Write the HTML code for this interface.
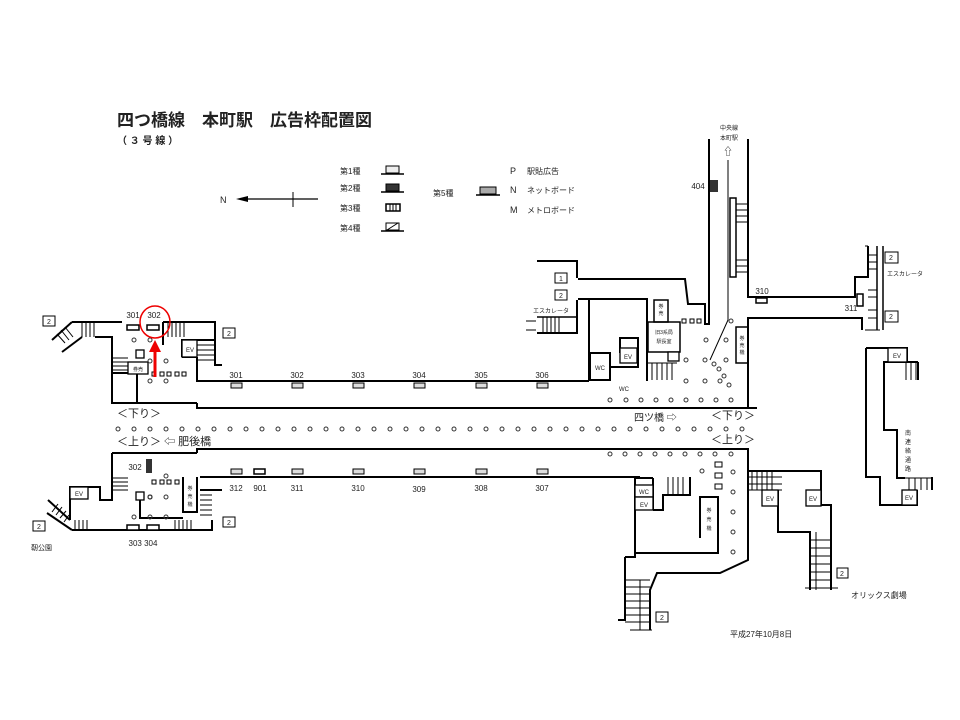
<!DOCTYPE html>
<html><head><meta charset="utf-8"><style>
html,body{margin:0;padding:0;background:#fff;}
svg{display:block;}
text{font-family:"Liberation Sans","Noto Sans CJK JP",sans-serif;fill:#222;}
</style></head><body>
<svg width="960" height="720" viewBox="0 0 960 720" xmlns="http://www.w3.org/2000/svg">
<rect width="960" height="720" fill="#fff"/>
<!-- title -->
<text x="117" y="126" font-size="17" font-weight="bold" fill="#333">四つ橋線　本町駅　広告枠配置図</text>
<text x="117" y="144" font-size="10" font-weight="bold" fill="#444">（ ３ 号 線 ）</text>
<!-- north arrow -->
<text x="220" y="203" font-size="9">N</text>
<line x1="240" y1="199" x2="318" y2="199" stroke="#000" stroke-width="1.3"/>
<polygon points="236,199 248,196 248,202" fill="#000"/>
<line x1="293" y1="192" x2="293" y2="207" stroke="#000"/>
<!-- legend -->
<g font-size="8">
<text x="340" y="174">第1種</text><text x="340" y="191">第2種</text><text x="340" y="211">第3種</text><text x="340" y="231">第4種</text>
<text x="433" y="196">第5種</text>
<text x="510" y="174" font-size="9">P</text><text x="527" y="174">駅貼広告</text>
<text x="510" y="193" font-size="9">N</text><text x="527" y="193">ネットボード</text>
<text x="510" y="213" font-size="9">M</text><text x="527" y="213">メトロボード</text>
</g>
<g stroke="#000" stroke-width="1">
<rect x="386" y="166" width="13" height="7" fill="#eee"/><line x1="381" y1="174" x2="404" y2="174" stroke-width="1.5"/>
<rect x="386" y="184" width="13" height="7" fill="#333"/><line x1="381" y1="192" x2="404" y2="192" stroke-width="1.5"/>
<rect x="386" y="204" width="14" height="7" fill="#fff" stroke-width="1.5"/><line x1="390" y1="204" x2="390" y2="211"/><line x1="393" y1="204" x2="393" y2="211"/><line x1="396" y1="204" x2="396" y2="211"/>
<rect x="386" y="223" width="13" height="7" fill="#fff"/><line x1="387" y1="230" x2="398" y2="223"/><line x1="381" y1="231" x2="404" y2="231" stroke-width="1.5"/>
<rect x="480" y="187" width="16" height="7" fill="#aaa"/><line x1="476" y1="195" x2="500" y2="195" stroke-width="1.5"/>
</g>

<g fill="none" stroke="#000" stroke-width="2">
<!-- main corridor walls -->
<polyline points="197,357 197,381 589,381"/>
<polyline points="197,403 197,408 757,408"/>
<polyline points="197,453 197,449 748,449 748,471"/>
<polyline points="200,477 640,477"/>
<!-- upper left -->
<line x1="72" y1="322" x2="122" y2="322"/>
<polyline points="95,337 112,337 112,403 197,403"/>
<polyline points="137,403 137,373 112,373"/>
<polyline points="163,322 215,322 215,365 222,365"/>
<polyline points="163,322 163,345"/>
<polyline points="182,357 182,340 215,340"/>
<line x1="182" y1="357" x2="197" y2="357"/>
<!-- lower left -->
<polyline points="112,453 197,453"/>
<polyline points="112,453 112,500 100,500 100,487 70,487 70,520"/>
<polyline points="72,530 212,530 212,520"/>
<polyline points="183,477 183,512 197,512 197,477"/>
<polyline points="200,490 222,490"/>
<polyline points="140,500 140,518 183,518"/>
<!-- center right -->
<polyline points="537,261 577,261 577,278"/>
<polyline points="577,300 577,333 537,333"/>
<polyline points="578,279 685,279 688,304 705,304 705,324 709,324 709,139"/>
<polyline points="578,299 647,299 647,381"/>
<line x1="589" y1="299" x2="589" y2="381"/>
<rect x="590" y="353" width="20" height="27"/>
<polyline points="610,367 638,367 638,338 620,338 620,353"/>
<rect x="648" y="322" width="32" height="30" stroke-width="1.5"/>
<rect x="654" y="300" width="14" height="22" stroke-width="1.5"/>
<polyline points="748,139 748,297 855,297 855,277 868,277 868,246"/>
<polyline points="748,409 748,318 862,318 862,330"/>
<rect x="736" y="327" width="12" height="36" stroke-width="1.5"/>
<rect x="730" y="198" width="6" height="79" stroke-width="1.5"/>
<!-- right building -->
<polyline points="866,348 907,348 907,362"/>
<polyline points="866,348 866,477 880,477 880,505 917,505 917,490"/>
<polyline points="918,362 884,362 884,430 897,430 897,478 905,478"/>
<!-- bottom right -->
<polyline points="748,471 821,471 821,505 831,505 831,590"/>
<polyline points="778,490 778,532 810,532 810,590"/>
<polyline points="748,471 748,560 720,573 657,573 650,590 650,630"/>
<polyline points="625,557 625,620 618,620"/>
<polyline points="625,557 635,557 635,478 653,478"/>
<polyline points="635,553 718,553 718,497 700,497 700,538"/>
<polyline points="653,510 663,510 663,495 690,495 690,477"/>
<polyline points="653,478 653,510"/>
</g>
<!-- thin lines -->
<g fill="none" stroke="#000" stroke-width="1">
<polyline points="728,160 728,320 710,360"/>
<line x1="653" y1="497" x2="635" y2="497"/>
<line x1="762" y1="490" x2="762" y2="506"/><line x1="762" y1="506" x2="778" y2="506"/>
<line x1="806" y1="490" x2="806" y2="506"/>
<line x1="888" y1="348" x2="888" y2="362"/>
<line x1="902" y1="490" x2="902" y2="505"/>
<line x1="877" y1="246" x2="877" y2="330" stroke-width="1.5"/><line x1="883" y1="246" x2="883" y2="330" stroke-width="1.5"/>
<line x1="865" y1="246" x2="868" y2="246"/><line x1="865" y1="330" x2="880" y2="330"/>
</g>
<!-- stairs (rungs) -->
<g stroke="#000" stroke-width="1">
<line x1="82" y1="322" x2="82" y2="337"/><line x1="86" y1="322" x2="86" y2="337"/><line x1="90" y1="322" x2="90" y2="337"/><line x1="94" y1="322" x2="94" y2="337"/>
<line x1="72" y1="322" x2="52" y2="340" stroke-width="2"/><line x1="82" y1="337" x2="62" y2="352" stroke-width="2"/>
<line x1="57" y1="334" x2="65" y2="343"/><line x1="61" y1="330" x2="69" y2="340"/><line x1="65" y1="327" x2="73" y2="337"/>
<line x1="168" y1="322" x2="168" y2="337"/><line x1="172" y1="322" x2="172" y2="337"/><line x1="176" y1="322" x2="176" y2="337"/><line x1="180" y1="322" x2="180" y2="337"/><line x1="184" y1="322" x2="184" y2="337"/>
<line x1="197" y1="345" x2="215" y2="345"/><line x1="197" y1="350" x2="215" y2="350"/><line x1="197" y1="355" x2="215" y2="355"/><line x1="197" y1="360" x2="215" y2="360"/>
<line x1="112" y1="358" x2="128" y2="358"/><line x1="112" y1="362" x2="128" y2="362"/><line x1="112" y1="366" x2="128" y2="366"/><line x1="112" y1="370" x2="128" y2="370"/>
<line x1="112" y1="478" x2="128" y2="478"/><line x1="112" y1="482" x2="128" y2="482"/><line x1="112" y1="486" x2="128" y2="486"/><line x1="112" y1="490" x2="128" y2="490"/>
<line x1="200" y1="495" x2="212" y2="495"/><line x1="200" y1="500" x2="212" y2="500"/><line x1="200" y1="505" x2="212" y2="505"/><line x1="200" y1="510" x2="212" y2="510"/><line x1="200" y1="515" x2="212" y2="515"/>
<line x1="75" y1="520" x2="75" y2="530"/><line x1="79" y1="520" x2="79" y2="530"/><line x1="83" y1="520" x2="83" y2="530"/><line x1="87" y1="520" x2="87" y2="530"/>
<line x1="175" y1="520" x2="175" y2="530"/><line x1="179" y1="520" x2="179" y2="530"/><line x1="183" y1="520" x2="183" y2="530"/><line x1="187" y1="520" x2="187" y2="530"/><line x1="191" y1="520" x2="191" y2="530"/>
<line x1="70" y1="520" x2="48" y2="500" stroke-width="2"/><line x1="72" y1="530" x2="47" y2="513" stroke-width="2"/>
<line x1="52" y1="512" x2="58" y2="504"/><line x1="56" y1="515" x2="62" y2="507"/><line x1="60" y1="518" x2="66" y2="511"/><line x1="64" y1="522" x2="69" y2="515"/>
<line x1="543" y1="317" x2="543" y2="333"/><line x1="547" y1="317" x2="547" y2="333"/><line x1="551" y1="317" x2="551" y2="333"/><line x1="555" y1="317" x2="555" y2="333"/><line x1="559" y1="317" x2="559" y2="333"/>
<line x1="537" y1="317" x2="577" y2="317" stroke-width="1.5"/>
<line x1="652" y1="363" x2="652" y2="380"/><line x1="657" y1="363" x2="657" y2="380"/><line x1="662" y1="363" x2="662" y2="380"/><line x1="667" y1="363" x2="667" y2="380"/><line x1="672" y1="363" x2="672" y2="380"/>
<line x1="648" y1="363" x2="677" y2="363"/>
<line x1="736" y1="204" x2="748" y2="204"/><line x1="736" y1="210" x2="748" y2="210"/><line x1="736" y1="216" x2="748" y2="216"/><line x1="736" y1="222" x2="748" y2="222"/><line x1="736" y1="260" x2="748" y2="260"/><line x1="736" y1="266" x2="748" y2="266"/><line x1="736" y1="272" x2="748" y2="272"/>
<line x1="868" y1="255" x2="877" y2="255"/><line x1="868" y1="262" x2="877" y2="262"/><line x1="868" y1="269" x2="877" y2="269"/><line x1="868" y1="290" x2="877" y2="290"/><line x1="868" y1="297" x2="877" y2="297"/><line x1="868" y1="310" x2="877" y2="310"/><line x1="868" y1="318" x2="877" y2="318"/>
<line x1="906" y1="362" x2="906" y2="380"/><line x1="911" y1="362" x2="911" y2="380"/><line x1="916" y1="362" x2="916" y2="380"/><line x1="918" y1="362" x2="918" y2="380" stroke-width="2"/>
<line x1="909" y1="478" x2="909" y2="490"/><line x1="915" y1="478" x2="915" y2="490"/><line x1="921" y1="478" x2="921" y2="490"/><line x1="927" y1="478" x2="927" y2="490"/><line x1="932" y1="477" x2="932" y2="490" stroke-width="2"/>
<line x1="905" y1="478" x2="932" y2="478"/>
<line x1="747" y1="477" x2="782" y2="477"/><line x1="747" y1="484" x2="782" y2="484"/><line x1="747" y1="490" x2="782" y2="490"/>
<line x1="752" y1="471" x2="752" y2="490"/><line x1="757" y1="471" x2="757" y2="490"/><line x1="762" y1="471" x2="762" y2="490"/><line x1="767" y1="471" x2="767" y2="490"/><line x1="772" y1="471" x2="772" y2="490"/>
<line x1="810" y1="540" x2="830" y2="540"/><line x1="810" y1="548" x2="830" y2="548"/><line x1="810" y1="556" x2="830" y2="556"/><line x1="810" y1="564" x2="830" y2="564"/><line x1="810" y1="572" x2="830" y2="572"/><line x1="810" y1="580" x2="830" y2="580"/>
<line x1="816" y1="532" x2="816" y2="590"/><line x1="805" y1="588" x2="838" y2="588"/>
<line x1="668" y1="477" x2="668" y2="495"/><line x1="673" y1="477" x2="673" y2="495"/><line x1="678" y1="477" x2="678" y2="495"/><line x1="683" y1="477" x2="683" y2="495"/>
<line x1="625" y1="580" x2="650" y2="580"/><line x1="625" y1="587" x2="650" y2="587"/><line x1="625" y1="594" x2="650" y2="594"/><line x1="625" y1="601" x2="650" y2="601"/><line x1="625" y1="608" x2="650" y2="608"/><line x1="625" y1="615" x2="650" y2="615"/><line x1="625" y1="622" x2="650" y2="622"/>
<line x1="640" y1="580" x2="640" y2="630"/><line x1="630" y1="630" x2="652" y2="630"/>
</g>
<!-- ad frames -->
<g stroke="#000" stroke-width="1" fill="#ddd">
<rect x="231" y="383" width="11" height="5"/><rect x="292" y="383" width="11" height="5"/><rect x="353" y="383" width="11" height="5"/><rect x="414" y="383" width="11" height="5"/><rect x="476" y="383" width="11" height="5"/><rect x="537" y="383" width="11" height="5"/>
<rect x="231" y="469" width="11" height="5"/><rect x="292" y="469" width="11" height="5"/><rect x="353" y="469" width="11" height="5"/><rect x="414" y="469" width="11" height="5"/><rect x="476" y="469" width="11" height="5"/><rect x="537" y="469" width="11" height="5"/>
</g>
<g stroke="#000" stroke-width="1.5" fill="#fff">
<rect x="127" y="325" width="12" height="5"/><rect x="147" y="325" width="12" height="5"/>
<rect x="127" y="525" width="12" height="5"/><rect x="147" y="525" width="12" height="5"/>
<rect x="254" y="469" width="11" height="5"/><rect x="756" y="298" width="11" height="5"/>
<rect x="857" y="294" width="6" height="12"/>
</g>
<rect x="146" y="459" width="6" height="14" fill="#333"/>
<rect x="710" y="180" width="8" height="12" fill="#333"/>
<!-- small squares -->
<g stroke="#000" stroke-width="1" fill="#fff">
<rect x="152" y="372" width="4" height="4"/><rect x="160" y="372" width="4" height="4"/><rect x="167" y="372" width="4" height="4"/><rect x="175" y="372" width="4" height="4"/><rect x="182" y="372" width="4" height="4"/>
<rect x="152" y="480" width="4" height="4"/><rect x="160" y="480" width="4" height="4"/><rect x="167" y="480" width="4" height="4"/><rect x="175" y="480" width="4" height="4"/>
<rect x="682" y="319" width="4" height="4"/><rect x="690" y="319" width="4" height="4"/><rect x="697" y="319" width="4" height="4"/>
<rect x="715" y="462" width="7" height="5"/><rect x="715" y="473" width="7" height="5"/><rect x="715" y="484" width="7" height="5"/>
</g>
<!-- labeled boxes -->
<g stroke="#000" stroke-width="1.3" fill="#fff">
<rect x="128" y="362" width="20" height="12"/><rect x="136" y="350" width="8" height="8"/>
<rect x="182" y="340" width="15" height="17"/>
<rect x="136" y="492" width="8" height="8"/>
<rect x="70" y="487" width="18" height="12"/>
<rect x="620" y="348" width="17" height="15"/>
<rect x="668" y="352" width="11" height="9"/>
<rect x="635" y="485" width="18" height="12"/>
<rect x="635" y="497" width="18" height="13"/>
<rect x="888" y="348" width="19" height="14"/>
<rect x="902" y="490" width="15" height="15"/>
<rect x="762" y="490" width="16" height="16"/>
<rect x="806" y="490" width="15" height="16"/>
</g>
<g stroke="#000" stroke-width="1" fill="#fff">
<rect x="43" y="316" width="12" height="10"/><rect x="223" y="328" width="12" height="10"/>
<rect x="33" y="521" width="12" height="10"/><rect x="223" y="517" width="12" height="10"/>
<rect x="555" y="273" width="12" height="10"/><rect x="555" y="290" width="12" height="10"/>
<rect x="885" y="252" width="13" height="11"/><rect x="885" y="311" width="13" height="11"/>
<rect x="837" y="568" width="11" height="10"/><rect x="656" y="612" width="12" height="10"/>
</g>
<g font-size="7" text-anchor="middle">
<text x="49" y="324">2</text><text x="229" y="336">2</text><text x="39" y="529">2</text><text x="229" y="525">2</text>
<text x="561" y="281">1</text><text x="561" y="298">2</text><text x="891" y="260">2</text><text x="891" y="319">2</text>
<text x="842" y="576">2</text><text x="662" y="620">2</text>
</g>
<g font-size="6" text-anchor="middle">
<text x="190" y="352">EV</text><text x="79" y="496">EV</text><text x="628" y="359">EV</text><text x="644" y="507">EV</text><text x="897" y="358">EV</text><text x="909" y="500">EV</text><text x="770" y="501">EV</text><text x="813" y="501">EV</text>
<text x="644" y="494">WC</text><text x="600" y="370">WC</text><text x="624" y="391">WC</text>
<text x="138" y="371" font-size="5">券売</text>
<text x="664" y="334" font-size="5">旧3系局</text><text x="664" y="343" font-size="5">駅長室</text>
</g>
<g font-size="5" text-anchor="middle">
<text x="661" y="308">券</text><text x="661" y="315">売</text>
<text x="742" y="340">券</text><text x="742" y="347">売</text><text x="742" y="354">機</text>
<text x="190" y="490">券</text><text x="190" y="498">売</text><text x="190" y="506">機</text>
<text x="709" y="512">券</text><text x="709" y="521">売</text><text x="709" y="530">機</text>
<text x="908" y="435" font-size="6">南</text><text x="908" y="444" font-size="6">連</text><text x="908" y="453" font-size="6">絡</text><text x="908" y="462" font-size="6">通</text><text x="908" y="471" font-size="6">路</text>
</g>
<!-- numbers -->
<g font-size="8" fill="#333" text-anchor="middle">
<text x="236" y="378">301</text><text x="297" y="378">302</text><text x="358" y="378">303</text><text x="419" y="378">304</text><text x="481" y="378">305</text><text x="542" y="378">306</text>
<text x="236" y="491">312</text><text x="260" y="491">901</text><text x="297" y="491">311</text><text x="358" y="491">310</text><text x="419" y="492">309</text><text x="481" y="491">308</text><text x="542" y="491">307</text>
<text x="133" y="318">301</text><text x="154" y="318">302</text><text x="135" y="470">302</text>
<text x="143" y="546">303 304</text>
<text x="698" y="189">404</text><text x="762" y="294">310</text><text x="851" y="311">311</text>
</g>
<!-- circles -->
<g fill="none" stroke="#333" stroke-width="1">
<circle cx="118" cy="429" r="2"/><circle cx="134" cy="429" r="2"/><circle cx="150" cy="429" r="2"/><circle cx="166" cy="429" r="2"/><circle cx="182" cy="429" r="2"/><circle cx="198" cy="429" r="2"/><circle cx="214" cy="429" r="2"/><circle cx="230" cy="429" r="2"/><circle cx="246" cy="429" r="2"/><circle cx="262" cy="429" r="2"/><circle cx="278" cy="429" r="2"/><circle cx="294" cy="429" r="2"/><circle cx="310" cy="429" r="2"/><circle cx="326" cy="429" r="2"/><circle cx="342" cy="429" r="2"/><circle cx="358" cy="429" r="2"/><circle cx="374" cy="429" r="2"/><circle cx="390" cy="429" r="2"/><circle cx="406" cy="429" r="2"/><circle cx="422" cy="429" r="2"/><circle cx="438" cy="429" r="2"/><circle cx="454" cy="429" r="2"/><circle cx="470" cy="429" r="2"/><circle cx="486" cy="429" r="2"/><circle cx="502" cy="429" r="2"/><circle cx="518" cy="429" r="2"/><circle cx="534" cy="429" r="2"/><circle cx="550" cy="429" r="2"/><circle cx="566" cy="429" r="2"/><circle cx="582" cy="429" r="2"/><circle cx="598" cy="429" r="2"/><circle cx="614" cy="429" r="2"/><circle cx="630" cy="429" r="2"/><circle cx="646" cy="429" r="2"/><circle cx="662" cy="429" r="2"/><circle cx="678" cy="429" r="2"/><circle cx="694" cy="429" r="2"/><circle cx="710" cy="429" r="2"/><circle cx="726" cy="429" r="2"/><circle cx="742" cy="429" r="2"/>
<circle cx="610" cy="400" r="2"/><circle cx="626" cy="400" r="2"/><circle cx="641" cy="400" r="2"/><circle cx="656" cy="400" r="2"/><circle cx="671" cy="400" r="2"/><circle cx="686" cy="400" r="2"/><circle cx="701" cy="400" r="2"/><circle cx="716" cy="400" r="2"/><circle cx="731" cy="400" r="2"/>
<circle cx="610" cy="454" r="2"/><circle cx="625" cy="454" r="2"/><circle cx="640" cy="454" r="2"/><circle cx="655" cy="454" r="2"/><circle cx="670" cy="454" r="2"/><circle cx="685" cy="454" r="2"/><circle cx="700" cy="454" r="2"/><circle cx="715" cy="454" r="2"/><circle cx="731" cy="454" r="2"/>
<circle cx="702" cy="471" r="2"/><circle cx="733" cy="472" r="2"/><circle cx="733" cy="492" r="2"/><circle cx="733" cy="512" r="2"/><circle cx="733" cy="532" r="2"/><circle cx="733" cy="552" r="2"/>
<circle cx="686" cy="381" r="2"/><circle cx="705" cy="381" r="2"/><circle cx="720" cy="381" r="2"/><circle cx="686" cy="360" r="2"/><circle cx="705" cy="360" r="2"/><circle cx="726" cy="360" r="2"/><circle cx="706" cy="340" r="2"/><circle cx="726" cy="340" r="2"/><circle cx="731" cy="321" r="2"/>
<circle cx="714" cy="364" r="2"/><circle cx="719" cy="369" r="2"/><circle cx="724" cy="376" r="2"/><circle cx="729" cy="385" r="2"/>
<circle cx="134" cy="340" r="2"/><circle cx="150" cy="340" r="2"/><circle cx="150" cy="361" r="2"/><circle cx="166" cy="361" r="2"/><circle cx="150" cy="381" r="2"/><circle cx="166" cy="381" r="2"/>
<circle cx="166" cy="476" r="2"/><circle cx="150" cy="497" r="2"/><circle cx="150" cy="497" r="2"/><circle cx="150" cy="497" r="2"/><circle cx="150" cy="497" r="2"/><circle cx="166" cy="497" r="2"/><circle cx="150" cy="517" r="2"/><circle cx="166" cy="517" r="2"/><circle cx="134" cy="517" r="2"/>
</g>
<!-- corridor labels -->
<g font-size="11" fill="#333">
<text x="117" y="417">＜下り＞</text>
<text x="117" y="445">＜上り＞ ⇦ 肥後橋</text>
<text x="634" y="421" font-size="10">四ツ橋 ⇨</text>
<text x="711" y="419">＜下り＞</text>
<text x="711" y="443">＜上り＞</text>
</g>
<g font-size="7" fill="#333">
<text x="533" y="313" font-size="6">エスカレータ</text>
<text x="887" y="276" font-size="6">エスカレータ</text>
<text x="720" y="130" font-size="6">中央線</text><text x="720" y="140" font-size="6">本町駅</text>
<text x="723" y="155" font-size="10">⇧</text>
<text x="31" y="550">靭公園</text>
<text x="851" y="598" font-size="8">オリックス劇場</text>
<text x="730" y="637" font-size="8">平成27年10月8日</text>
</g>
<g stroke="#000" stroke-width="1"><line x1="526" y1="321" x2="536" y2="321"/><line x1="526" y1="330" x2="536" y2="330"/></g>
<!-- red highlight -->
<ellipse cx="155" cy="322" rx="15" ry="16" fill="none" stroke="#e00" stroke-width="1.5"/>
<line x1="155" y1="377" x2="155" y2="350" stroke="#e00" stroke-width="3"/>
<polygon points="155,340 149,352 161,352" fill="#e00"/>
</svg>
</body></html>
